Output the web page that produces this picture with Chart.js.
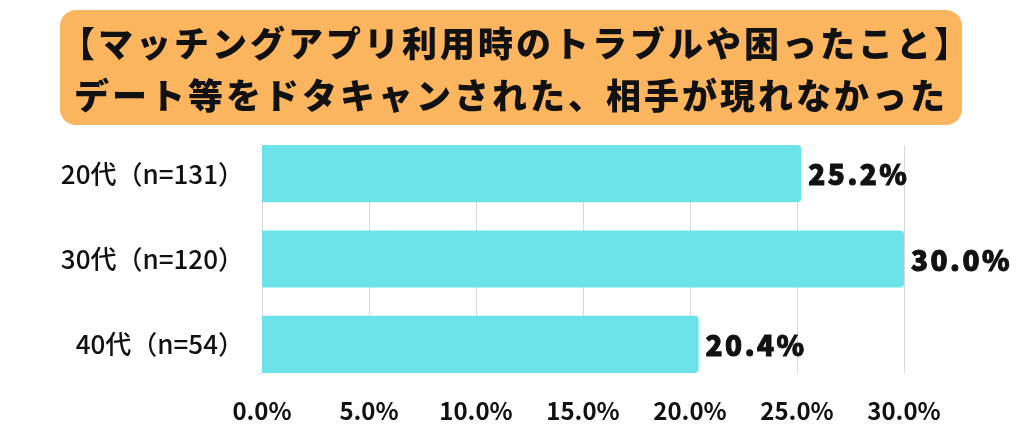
<!DOCTYPE html>
<html>
<head>
<meta charset="utf-8">
<script src="https://cdn.jsdelivr.net/npm/chart.js@4"></script>
<style>
  body { margin: 0; background: #fff; }
  #wrap { position: relative; width: 1024px; height: 427px; }
  #titleBox {
    position: absolute; left: 60px; top: 10px; width: 902px; height: 115px;
    background: #FBB55E; border-radius: 16px;
    font-family: "Noto Sans CJK JP", sans-serif; font-weight: 900;
    font-size: 35px; color: #111; text-align: center; line-height: 52px;
    padding-top: 6px; box-sizing: border-box; letter-spacing: 3px;
    white-space: nowrap;
  }
  canvas { position: absolute; left: 0; top: 0; }
</style>
</head>
<body>
<div id="wrap">
  <canvas id="chart" width="1024" height="427"></canvas>
  <div id="titleBox">【マッチングアプリ利用時のトラブルや困ったこと】<br>デート等をドタキャンされた、相手が現れなかった</div>
</div>
<script>
// データ
const categories = ['20代（n=131）', '30代（n=120）', '40代（n=54）'];
const values = [25.2, 30.0, 20.4];
const tickMax = 30;
const tickStep = 5;

// 文字間隔を少し広げる
const spacing = {
  id: 'spacing',
  beforeInit(chart) { chart.ctx.letterSpacing = '2px'; }
};

// 棒の先に値を表示
const valueLabels = {
  id: 'valueLabels',
  afterDatasetsDraw(chart) {
    const ctx = chart.ctx;
    const meta = chart.getDatasetMeta(0);
    ctx.save();
    ctx.font = '900 28px "Noto Sans CJK JP", sans-serif';
    ctx.letterSpacing = '2.5px';
    ctx.fillStyle = '#111';
    ctx.strokeStyle = '#111';
    ctx.lineWidth = 1;
    ctx.textAlign = 'left';
    ctx.textBaseline = 'middle';
    meta.data.forEach((bar, i) => {
      const s = values[i].toFixed(1) + '%';
      ctx.fillText(s, bar.x + 7, bar.y + 1);
      ctx.strokeText(s, bar.x + 7, bar.y + 1);
    });
    ctx.restore();
  }
};

// 目盛線は最初の棒の上端から最後の棒の下端まで
const gridLines = {
  id: 'gridLines',
  beforeDatasetsDraw(chart) {
    const ctx = chart.ctx;
    const meta = chart.getDatasetMeta(0);
    const first = meta.data[0], last = meta.data[meta.data.length - 1];
    const top = first.y - first.height / 2;
    const bottom = last.y + last.height / 2;
    const xs = chart.scales.x;
    ctx.save();
    ctx.strokeStyle = '#D9D9D9';
    ctx.lineWidth = 1;
    xs.ticks.forEach(t => {
      const x = Math.round(xs.getPixelForValue(t.value)) + 0.5;
      ctx.beginPath();
      ctx.moveTo(x, top);
      ctx.lineTo(x, bottom);
      ctx.stroke();
    });
    ctx.restore();
  }
};

new Chart(document.getElementById('chart'), {
  type: 'bar',
  data: {
    labels: categories,
    datasets: [{
      data: values,
      backgroundColor: '#6BE3E8',
      borderRadius: { topRight: 4, bottomRight: 4 },
      borderSkipped: 'start',
      categoryPercentage: 1,
      barPercentage: 0.67
    }]
  },
  options: {
    indexAxis: 'y',
    responsive: false,
    animation: false,
    layout: { padding: { top: 131, right: 120, bottom: 0, left: 0 } },
    plugins: { legend: { display: false }, tooltip: { enabled: false } },
    scales: {
      x: {
        min: 0, max: tickMax,
        grid: { display: false },
        border: { display: false },
        afterFit(scale) { scale.height = 40; },
        ticks: {
          stepSize: tickStep,
          padding: 1,
          color: '#111',
          font: { family: '"Noto Sans CJK JP", sans-serif', size: 24, weight: 'bold' },
          callback: v => v.toFixed(1) + '%'
        }
      },
      y: {
        grid: { display: false, drawTicks: false },
        border: { display: false },
        afterFit(scale) { scale.width = 262; },
        ticks: {
          padding: 18,
          color: '#111',
          font: { family: '"Noto Sans CJK JP", sans-serif', size: 26, weight: '500' }
        }
      }
    }
  },
  plugins: [spacing, gridLines, valueLabels]
});
</script>
</body>
</html>
